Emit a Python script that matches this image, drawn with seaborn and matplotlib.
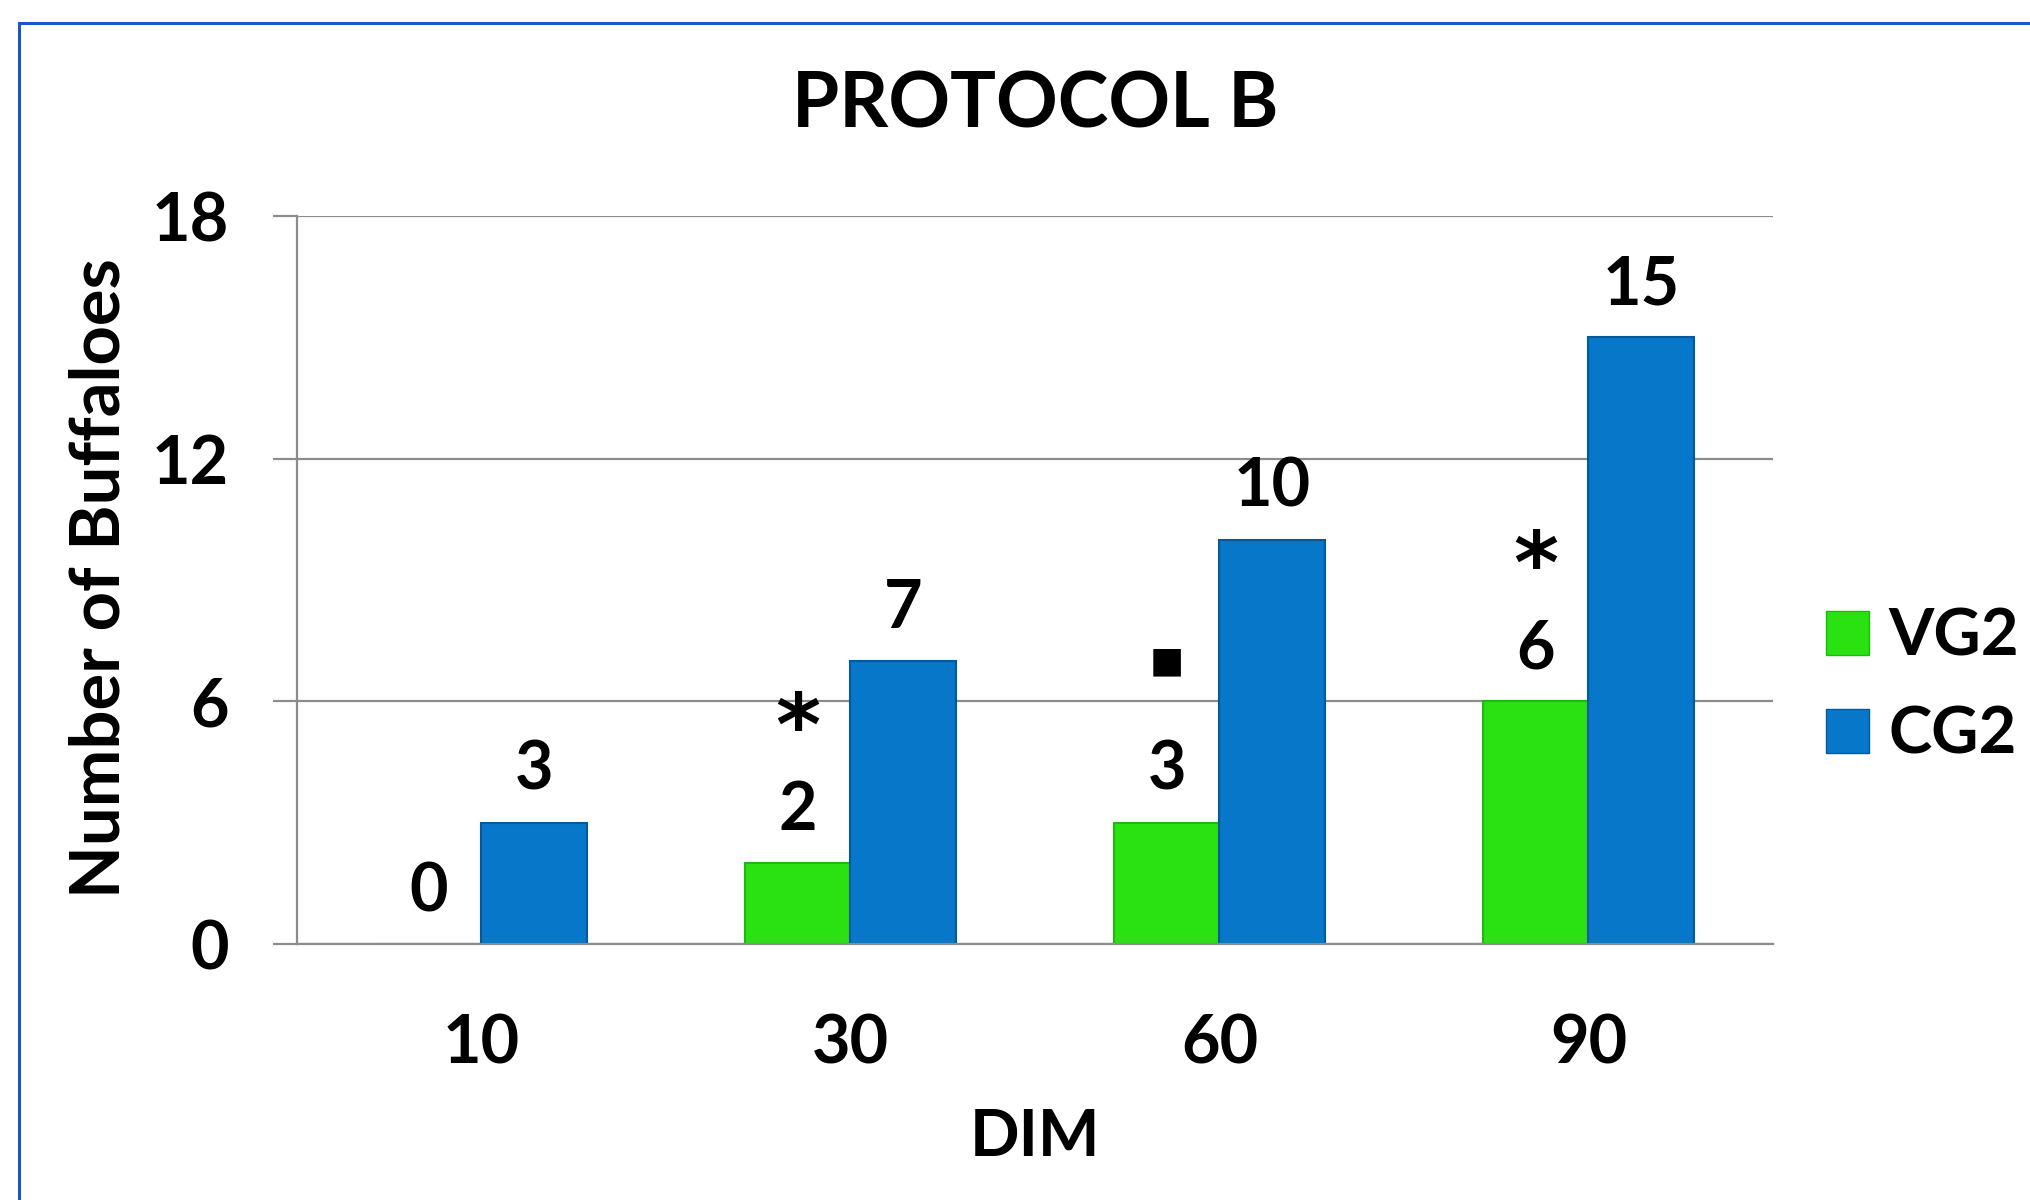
import pandas as pd
import numpy as np
import seaborn as sns
import matplotlib.pyplot as plt
from matplotlib.patches import Rectangle, Patch

# data
dims = ["10", "30", "60", "90"]
vg2 = [0, 2, 3, 6]
cg2 = [3, 7, 10, 15]
vg2_marks = ["", "*", "\u25a0", "*"]
groups = ["VG2", "CG2"]

green = "#2ae212"
blue = "#0677c9"
grid_col = "#8c8c8c"

df = pd.DataFrame({
    "DIM": dims * 2,
    "Group": [groups[0]] * len(dims) + [groups[1]] * len(dims),
    "Count": vg2 + cg2,
})

sns.set_theme(style="white")
plt.rcParams["font.family"] = ["Lato", "DejaVu Sans"]
plt.rcParams["font.weight"] = "bold"
plt.rcParams["text.color"] = "black"
plt.rcParams["axes.labelcolor"] = "black"
plt.rcParams["xtick.labelcolor"] = "black"
plt.rcParams["ytick.labelcolor"] = "black"

fig = plt.figure(figsize=(20.31, 12), dpi=100)
ax = fig.add_axes([297 / 2031, 1 - 944 / 1200, (1773 - 297) / 2031, (944 - 216) / 1200])

sns.barplot(data=df, x="DIM", y="Count", hue="Group", hue_order=groups,
            palette={"VG2": green, "CG2": blue}, width=0.57, saturation=1,
            legend=False, edgecolor="none", ax=ax)

# darker rim for a slight bevel look
edge = {0: "#1fb80d", 1: "#04599b"}
for i, cont in enumerate(ax.containers):
    for bar in cont:
        bar.set_edgecolor(edge[i])
        bar.set_linewidth(1.5)

# value labels
for cont in ax.containers:
    ax.bar_label(cont, fmt="%d", padding=15, fontsize=48, fontweight="bold", color="black")

# significance marks above VG2
for bar, mark in zip(ax.containers[0], vg2_marks):
    if not mark:
        continue
    x = bar.get_x() + bar.get_width() / 2
    y = bar.get_height()
    if mark == "*":
        ax.annotate(mark, xy=(x, y), xytext=(0, 95), textcoords="offset points",
                    ha="center", va="center", fontsize=62, fontweight="bold",
                    family="DejaVu Sans", color="black")
    else:
        ax.annotate(mark, xy=(x, y), xytext=(0, 116), textcoords="offset points",
                    ha="center", va="center", fontsize=26, fontweight="bold",
                    family="DejaVu Sans", color="black")

ax.set_ylim(0, 18)
ax.set_xlim(-0.5, len(dims) - 0.5)
ax.set_yticks([0, 6, 12, 18])
ax.yaxis.grid(True, color=grid_col, linewidth=1.6)
ax.set_axisbelow(True)
for side in ["top", "right"]:
    ax.spines[side].set_visible(False)
for side in ["left", "bottom"]:
    ax.spines[side].set_color(grid_col)
    ax.spines[side].set_linewidth(1.6)

# Excel-style ticks between categories
ax.set_xticks(np.arange(-0.5, len(dims)), minor=True)
ax.tick_params(axis="x", which="major", length=0, pad=50, labelsize=48)
ax.tick_params(axis="x", which="minor", length=17, width=1.6, color=grid_col, direction="out")
ax.tick_params(axis="y", which="major", length=17, width=1.6, color=grid_col,
               direction="out", pad=32, labelsize=48, left=True)
for lab in ax.get_xticklabels() + ax.get_yticklabels():
    lab.set_fontweight("bold")
    lab.set_color("black")

ax.set_xlabel("")
ax.set_ylabel("")
fig.text(1035 / 2031, 1 - 1138 / 1200, "DIM", ha="center", va="center",
         fontsize=47, fontweight="bold")
fig.text(100 / 2031, 1 - 578 / 1200, "Number of Buffaloes", ha="center", va="center",
         rotation=90, fontsize=49.5, fontweight="bold")
fig.text(1035 / 2031, 1 - 105 / 1200, "PROTOCOL B", ha="center", va="center",
         fontsize=55, fontweight="bold")

handles = [Patch(facecolor=green, edgecolor=edge[0]), Patch(facecolor=blue, edgecolor=edge[1])]
fig.legend(handles, groups, loc="center left", bbox_to_anchor=(1826 / 2031, 1 - 686 / 1200),
           frameon=False, prop={"weight": "bold", "size": 47},
           handlelength=0.66, handleheight=0.66, handletextpad=0.3,
           labelspacing=0.6, borderpad=0, borderaxespad=0)

# blue frame around the chart (runs off the right and bottom edges)
fig.add_artist(Rectangle((19 / 2031, -0.05), 1.2, 1 - 23 / 1200 + 0.05,
                         transform=fig.transFigure, fill=False,
                         edgecolor="#1a56c8", linewidth=2.2, clip_on=False))

fig.savefig("out.png", dpi=100)
